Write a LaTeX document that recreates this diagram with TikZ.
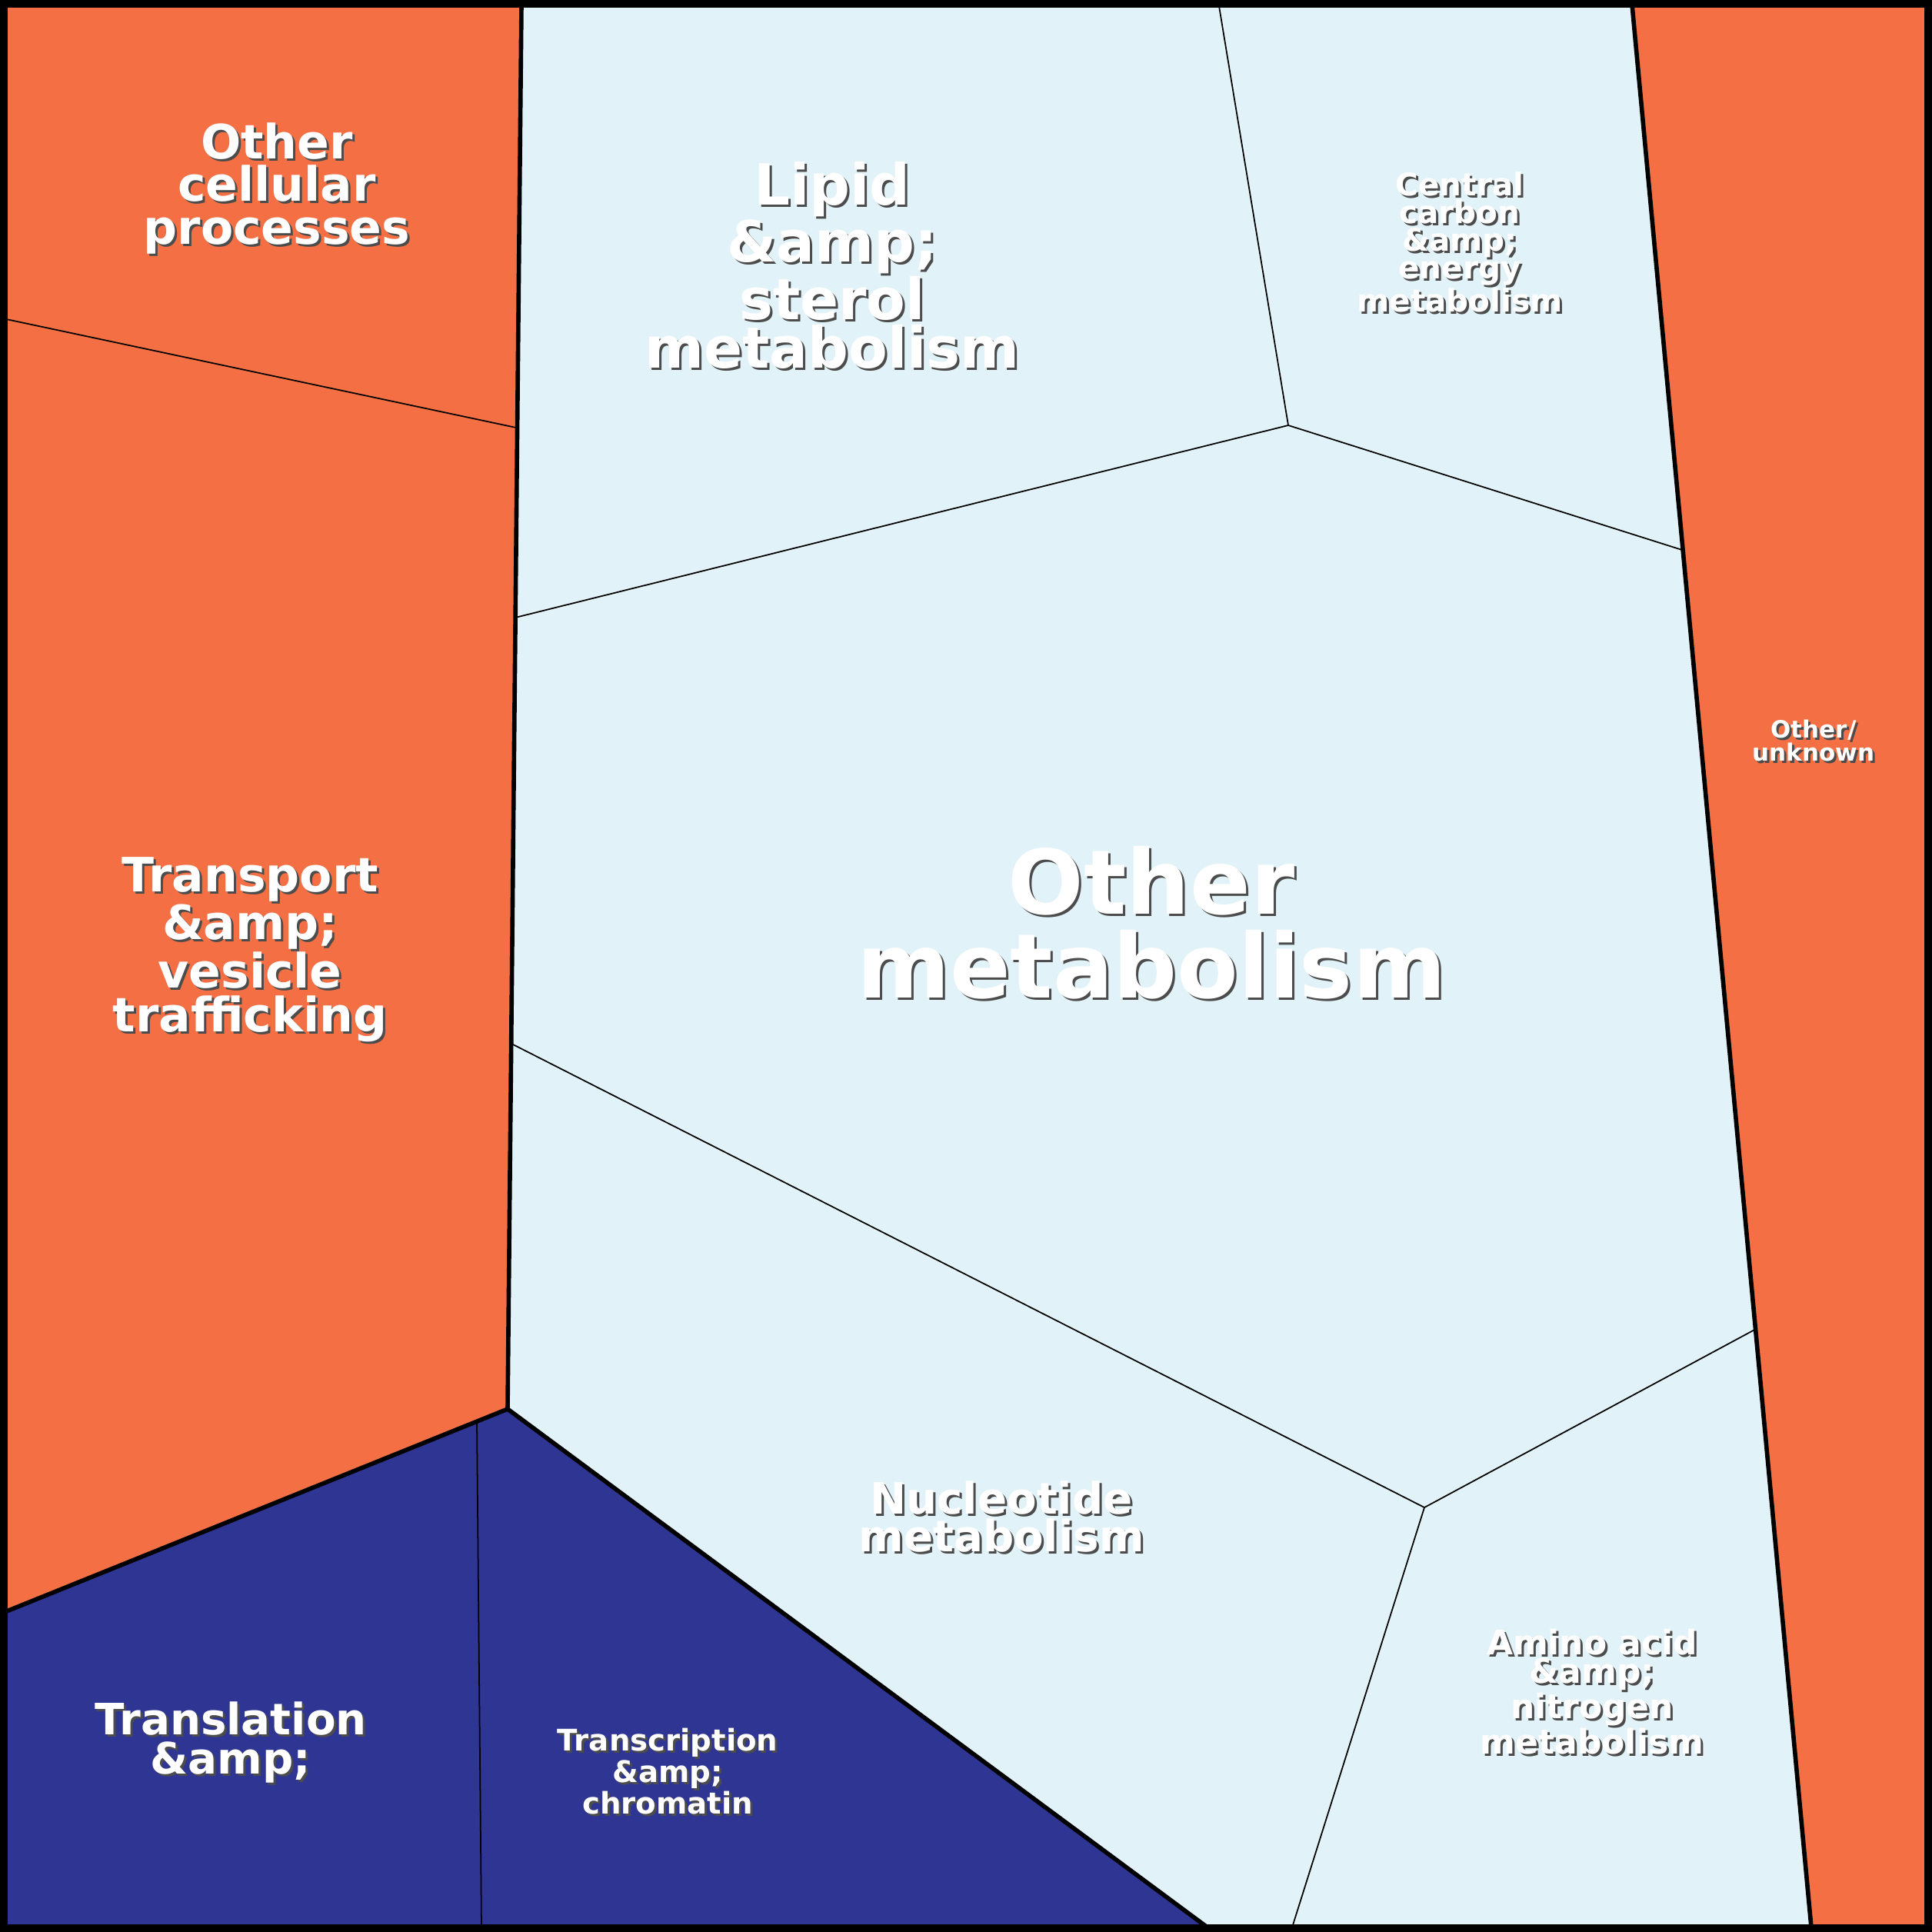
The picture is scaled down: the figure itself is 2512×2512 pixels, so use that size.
\documentclass[tikz,border=0pt]{standalone}
\usepackage{fontspec}
\setmainfont{DejaVu Sans}
\definecolor{org}{RGB}{244,112,68}
\definecolor{lb}{RGB}{225,243,248}
\definecolor{nv}{RGB}{46,53,146}
\tikzset{
  cell/.style={draw=black,line width=0.5pt},
  bd/.style={draw=black,line width=1.6pt},
  lt/.style={align=center,text=white,inner sep=0pt},
  sh/.style={align=center,text=black!70,inner sep=0pt},
}
\newcommand{\lbl}[5]{% name, x, y, size/spacing, text
  \node[sh,font={\bfseries#4}] at (#2+3,#3+3) {#5};
  \node[lt,font={\bfseries#4}] (#1) at (#2,#3) {#5};}
\begin{document}
\begin{tikzpicture}[x=0.01cm,y=-0.01cm]
\useasboundingbox (0,0) rectangle (2512,2512);
\fill[white] (0,0) rectangle (2512,2512);
% regions
\fill[org] (6,6) -- (678,6) -- (660,1832) -- (6,2096) -- cycle;
\fill[lb] (678,6) -- (2122,6) -- (2355,2506) -- (1570,2506) -- (660,1832) -- cycle;
\fill[org] (2122,6) -- (2506,6) -- (2506,2506) -- (2355,2506) -- cycle;
\fill[nv] (660,1832) -- (1570,2506) -- (6,2506) -- (6,2096) -- cycle;
% cell borders
\draw[cell] (8,415) -- (671,556);
\draw[cell] (670,803) -- (1675,553) -- (1585,8);
\draw[cell] (1675,553) -- (2187,715);
\draw[cell] (665,1357) -- (1852,1960) -- (2283,1728);
\draw[cell] (1852,1960) -- (1680,2506);
\draw[cell] (620,1850) -- (626,2506);
% group borders
\draw[bd] (678,6) -- (660,1832) -- (6,2096);
\draw[bd] (660,1832) -- (1570,2506);
\draw[bd] (2122,6) -- (2355,2506);
\draw[line width=4pt] (3,3) rectangle (2509,2509);
% labels
\lbl{ocp}{360}{245}{\fontsize{17.5}{15.8}\selectfont}{Other\\cellular\\processes}
\lbl{lip}{1082}{345}{\fontsize{21}{18}\selectfont}{Lipid\\\&amp;\\sterol\\metabolism}
\lbl{ccm}{1898}{315}{\fontsize{11.5}{10.2}\selectfont}{Central\\carbon\\\&amp;\\energy\\metabolism}
\lbl{oth}{2358}{963}{\fontsize{8.8}{8.6}\selectfont}{Other/\\unknown}
\lbl{om}{1497}{1200}{\fontsize{33}{31}\selectfont}{Other\\metabolism}
\lbl{tvt}{325}{1235}{\fontsize{17.5}{16.2}\selectfont}{Transport\\\&amp;\\vesicle\\trafficking}
\lbl{nuc}{1302}{1972}{\fontsize{16}{14.2}\selectfont}{Nucleotide\\metabolism}
\lbl{aa}{2070}{2200}{\fontsize{12.5}{10.4}\selectfont}{Amino acid\\\&amp;\\nitrogen\\metabolism}
\lbl{tr}{300}{2265}{\fontsize{16}{14.5}\selectfont}{Translation\\\&amp;}
\lbl{tc}{868}{2303}{\fontsize{11}{9.6}\selectfont}{Transcription\\\&amp;\\chromatin}
\end{tikzpicture}
\end{document}
